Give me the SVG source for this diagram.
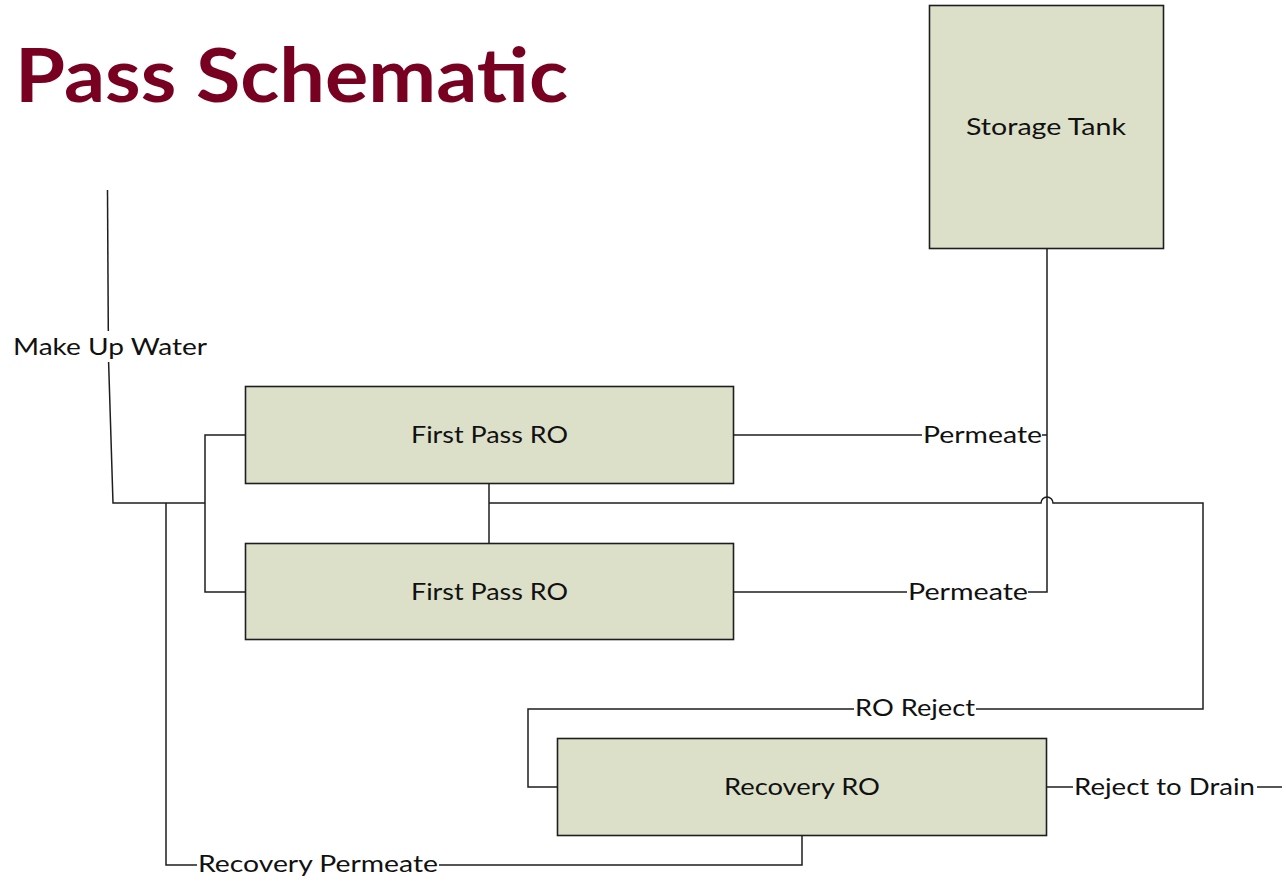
<svg xmlns="http://www.w3.org/2000/svg" width="1286" height="882" viewBox="0 0 1286 882">
<style>
.box{fill:#DCE0C9;stroke:#1e1e1e;stroke-width:1.6}
.c{fill:none;stroke:#1e1e1e;stroke-width:1.5}
.t{font-family:Lato,"Open Sans","Liberation Sans",sans-serif;font-size:24px;fill:#111}
.title{font-family:Lato,"Open Sans","Liberation Sans",sans-serif;font-size:74px;font-weight:bold;fill:#780020}
</style>
<rect width="1286" height="882" fill="#fff"/>
<text class="title" x="15" y="102" textLength="553" lengthAdjust="spacingAndGlyphs">Pass Schematic</text>
<g id="connectors">
<path class="c" d="M107.5 190 L108.3 331"/>
<path class="c" d="M108.6 362 L113 503 H205"/>
<path class="c" d="M245 435 H205 V592 H245"/>
<path class="c" d="M166 503 V865 H197"/>
<path class="c" d="M439 865 H802 V835"/>
<path class="c" d="M733 435 H922"/>
<path class="c" d="M1042 435 H1047"/>
<path class="c" d="M733 592 H907"/>
<path class="c" d="M1028 592 H1047 V248"/>
<path class="c" d="M489 483 V543"/>
<path class="c" d="M489 503 H1041 A6 6 0 0 1 1053 503 H1203 V709 H976"/>
<path class="c" d="M854 709 H528 V787 H557"/>
<path class="c" d="M1047 787 H1073"/>
<path class="c" d="M1257 787 H1282"/>
<text class="t" x="13" y="355" textLength="194" lengthAdjust="spacingAndGlyphs">Make Up Water</text>
<text class="t" x="923" y="443" textLength="119" lengthAdjust="spacingAndGlyphs">Permeate</text>
<text class="t" x="908" y="600" textLength="120" lengthAdjust="spacingAndGlyphs">Permeate</text>
<text class="t" x="855" y="716" textLength="120" lengthAdjust="spacingAndGlyphs">RO Reject</text>
<text class="t" x="1074" y="795" textLength="181" lengthAdjust="spacingAndGlyphs">Reject to Drain</text>
<text class="t" x="198" y="872" textLength="240" lengthAdjust="spacingAndGlyphs">Recovery Permeate</text>
</g>
<g id="storage-tank">
<rect class="box" x="929.5" y="5.5" width="234" height="243"/>
<text class="t" x="966" y="135" textLength="160" lengthAdjust="spacingAndGlyphs">Storage Tank</text>
</g>
<g id="first-pass-ro-1">
<rect class="box" x="245.5" y="386.5" width="488" height="97"/>
<text class="t" x="411" y="443" textLength="157" lengthAdjust="spacingAndGlyphs">First Pass RO</text>
</g>
<g id="first-pass-ro-2">
<rect class="box" x="245.5" y="543.5" width="488" height="96"/>
<text class="t" x="411" y="600" textLength="157" lengthAdjust="spacingAndGlyphs">First Pass RO</text>
</g>
<g id="recovery-ro">
<rect class="box" x="557.5" y="738.5" width="489" height="97"/>
<text class="t" x="724" y="795" textLength="156" lengthAdjust="spacingAndGlyphs">Recovery RO</text>
</g>
</svg>
